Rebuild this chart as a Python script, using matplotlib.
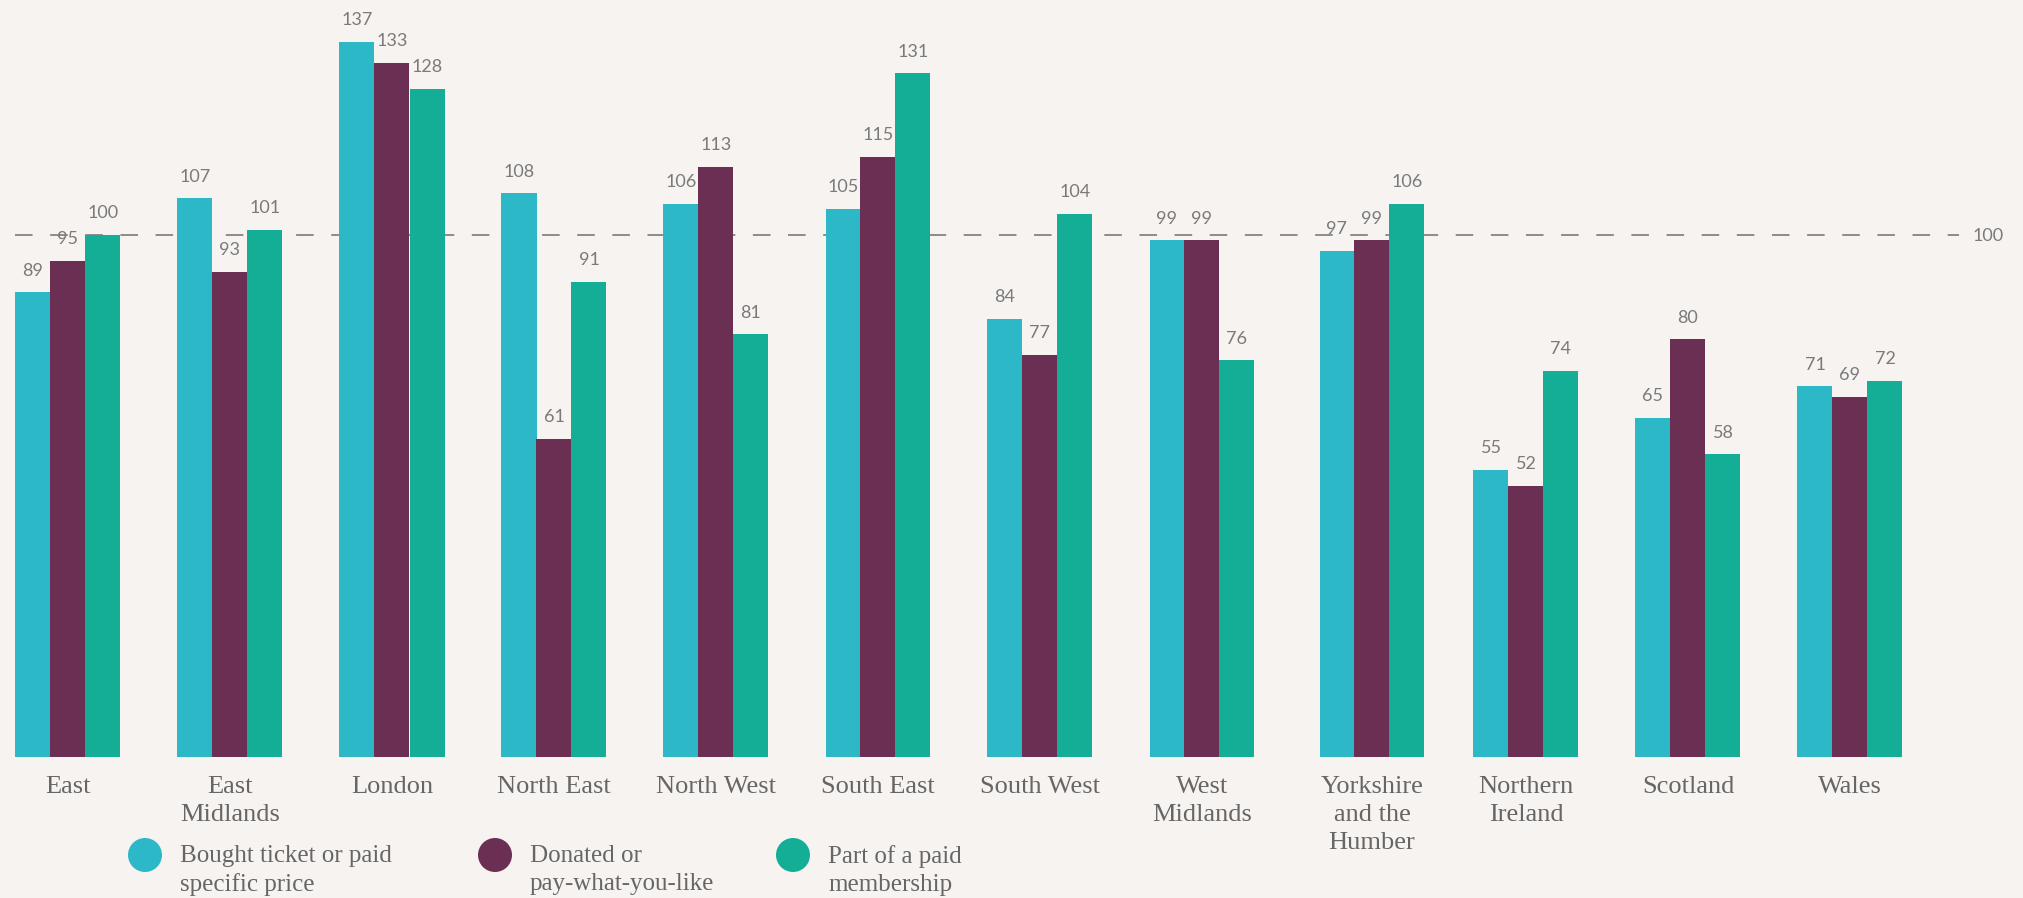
import matplotlib
matplotlib.use("Agg")
import matplotlib.pyplot as plt
from matplotlib.patches import Circle
import numpy as np

regions = ["East", "East\nMidlands", "London", "North East", "North West",
           "South East", "South West", "West\nMidlands",
           "Yorkshire\nand the\nHumber", "Northern\nIreland", "Scotland", "Wales"]
bought = [89, 107, 137, 108, 106, 105, 84, 99, 97, 55, 65, 71]
donated = [95, 93, 133, 61, 113, 115, 77, 99, 99, 52, 80, 69]
membership = [100, 101, 128, 91, 81, 131, 104, 76, 106, 74, 58, 72]
series_names = ["Bought ticket or paid\nspecific price",
                "Donated or\npay-what-you-like",
                "Part of a paid\nmembership"]
reference = 100

colors = ["#2cb8c6", "#6b2f53", "#14ae96"]
bg = "#f7f3f0"
grey_num = "#7a7a7a"
grey_txt = "#666666"
num_font = "Lato"
lab_font = "Liberation Serif"

W, H = 2024, 898
fig = plt.figure(figsize=(W / 100, H / 100), dpi=100, facecolor=bg)

# axes: value 0 at y=757px, 5.22 px per unit; group i centred at 68 + 162*i px
base_px = 757
ppu = 5.22
ax = fig.add_axes([0, (H - base_px) / H, 1, base_px / H])
ax.set_facecolor(bg)
ax.set_xlim(-68 / 162, (W - 68) / 162)
ax.set_ylim(0, base_px / ppu)
ax.axis("off")

x = np.arange(len(regions), dtype=float)
x[8] += 8 / 162  # the three-line label pushes this group a little right
bw = 35 / 162
for k, vals in enumerate([bought, donated, membership]):
    xs = x + (k - 1) * bw
    ax.bar(xs, vals, width=bw, color=colors[k], linewidth=0, zorder=2)
    for xi, v in zip(xs, vals):
        ax.annotate(str(v), (xi, v), xytext=(0, 12), textcoords="offset points",
                    ha="center", va="baseline", fontsize=13, color=grey_num,
                    family=num_font, zorder=3)

# reference line at 100
x0 = (15 - 68) / 162
x1 = (1959 - 68) / 162
ax.plot([x0, x1], [reference, reference], color="#707070", lw=1.1,
        dashes=(11.5, 11.5), zorder=1)
ax.annotate(str(reference), (x1, reference), xytext=(10, -1), textcoords="offset points",
            ha="left", va="center", fontsize=13, color=grey_num, family=num_font)

# category labels
for xi, lab in zip(x, regions):
    ax.annotate(lab, (xi, 0), xytext=(0, -14), textcoords="offset points",
                ha="center", va="top", fontsize=19, color=grey_txt,
                family=lab_font, linespacing=1.33, annotation_clip=False)

# legend in pixel coordinates
lax = fig.add_axes([0, 0, 1, 1])
lax.set_xlim(0, W)
lax.set_ylim(H, 0)
lax.axis("off")
leg_x = [145, 495, 793]
for cx, c, name in zip(leg_x, colors, series_names):
    lax.add_patch(Circle((cx, 855), 17, color=c, lw=0))
    lax.text(cx + 35, 845, name, ha="left", va="top", fontsize=18,
             color=grey_txt, family=lab_font, linespacing=1.36)

fig.savefig("out.png", dpi=100, facecolor=bg)
